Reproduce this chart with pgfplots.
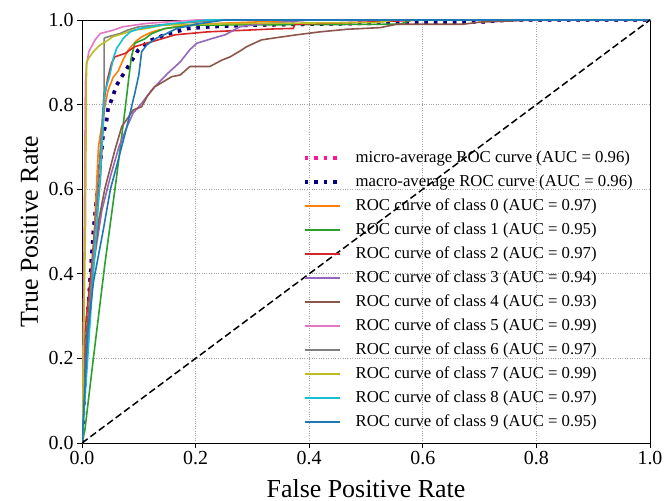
\documentclass[border=0pt]{standalone}
\usepackage{fontspec}
\setmainfont{Liberation Serif}
\usepackage{pgfplots}
\pgfplotsset{compat=1.18}

\definecolor{c0}{HTML}{FF7F0E}
\definecolor{c1}{HTML}{2CA02C}
\definecolor{c2}{HTML}{D62728}
\definecolor{c3}{HTML}{9467BD}
\definecolor{c4}{HTML}{8C564B}
\definecolor{c5}{HTML}{E377C2}
\definecolor{c6}{HTML}{7F7F7F}
\definecolor{c7}{HTML}{BCBD22}
\definecolor{c8}{HTML}{17BECF}
\definecolor{c9}{HTML}{1F77B4}
\definecolor{microc}{HTML}{FF1493}
\definecolor{macroc}{HTML}{000080}

\begin{document}
\begin{tikzpicture}
\begin{axis}[
name=ax,
scale only axis,
width=568bp,height=423bp,
xmin=0,xmax=1,ymin=0,ymax=1,
xtick={0,0.2,...,1.0},ytick={0,0.2,...,1.0},
tick pos=left,
tick align=outside,
major tick length=5bp,
tick style={black,line width=0.8bp},
axis line style={line width=0.8bp},
/pgf/number format/assume math mode=true,
xticklabel style={/pgf/number format/.cd,fixed,fixed zerofill,precision=1},
yticklabel style={/pgf/number format/.cd,fixed,fixed zerofill,precision=1},
ticklabel style={font=\fontsize{20}{24}\selectfont},
xlabel={False Positive Rate},
ylabel={True Positive Rate},
every axis x label/.style={at={([yshift=-54bp]rel axis cs:0.5,0)},anchor=base,inner sep=0pt,font=\fontsize{26}{30}\selectfont},
every axis y label/.style={at={([xshift=-44bp]rel axis cs:0,0.5)},anchor=base,rotate=90,inner sep=0pt,font=\fontsize{26}{30}\selectfont},
grid=major,
major grid style={dotted,line width=0.9bp,color=black!35},
legend cell align=left,
legend image code/.code={\draw[#1] (0bp,0bp) -- (35bp,0bp);},
legend style={draw=none,fill=none,at={(rel axis cs:0.389,0.693)},anchor=north west,
  font=\fontsize{16.8}{20}\selectfont,inner sep=0pt,
  nodes={inner sep=0pt,text height=12bp,text depth=4bp},
  row sep=8bp,column sep=14bp},
every axis plot/.append style={line width=1.6bp,line join=round},
]
% micro-average (hidden under the macro-average in the reference)
\addplot[microc,line width=3.5bp,dash pattern=on 3.5bp off 6bp] coordinates {
(0,0)(0.01,0.3)(0.02,0.5)(0.032,0.662)(0.035,0.697)(0.037,0.728)(0.043,0.76)(0.046,0.791)(0.052,0.811)(0.061,0.846)(0.07,0.866)(0.085,0.898)(0.099,0.929)(0.117,0.95)(0.146,0.965)(0.164,0.972)(0.187,0.98)(0.225,0.984)(0.3,0.988)(0.5,0.992)(0.7,0.995)(0.75,1)(1,1)
};
% macro-average
\addplot[macroc,line width=3.5bp,dash pattern=on 3.5bp off 6bp] coordinates {
(0,0)(0.01,0.3)(0.02,0.5)(0.032,0.662)(0.035,0.697)(0.037,0.728)(0.043,0.76)(0.046,0.791)(0.052,0.811)(0.061,0.846)(0.07,0.866)(0.085,0.898)(0.099,0.929)(0.117,0.95)(0.146,0.965)(0.164,0.972)(0.187,0.98)(0.225,0.984)(0.3,0.988)(0.5,0.992)(0.7,0.995)(0.75,1)(1,1)
};
% class 0
\addplot[c0] coordinates {
(0,0)(0.01,0.25)(0.02,0.45)(0.026,0.62)(0.029,0.7)(0.038,0.78)(0.046,0.834)(0.055,0.865)(0.064,0.88)(0.072,0.905)(0.082,0.93)(0.095,0.95)(0.105,0.96)(0.12,0.97)(0.134,0.976)(0.164,0.984)(0.2,0.99)(0.3,0.995)(0.4,1)(1,1)
};
% class 1
\addplot[c1] coordinates {
(0,0)(0.005,0.03)(0.02,0.2)(0.04,0.42)(0.06,0.62)(0.076,0.79)(0.083,0.87)(0.087,0.913)(0.093,0.945)(0.11,0.955)(0.123,0.968)(0.146,0.98)(0.2,0.988)(0.56,0.99)(0.58,1)(1,1)
};
% class 2
\addplot[c2] coordinates {
(0,0)(0.005,0.26)(0.017,0.42)(0.025,0.55)(0.032,0.62)(0.04,0.82)(0.045,0.86)(0.052,0.898)(0.058,0.913)(0.076,0.921)(0.093,0.937)(0.134,0.953)(0.164,0.965)(0.222,0.972)(0.34,0.979)(0.372,0.98)(0.375,0.99)(0.5,0.995)(0.6,1)(1,1)
};
% class 3
\addplot[c3] coordinates {
(0,0)(0.004,0.14)(0.008,0.26)(0.02,0.42)(0.035,0.55)(0.05,0.63)(0.065,0.7)(0.08,0.75)(0.09,0.78)(0.105,0.803)(0.123,0.835)(0.151,0.874)(0.173,0.901)(0.19,0.93)(0.202,0.945)(0.231,0.957)(0.252,0.965)(0.278,0.984)(0.31,0.99)(0.4,1)(1,1)
};
% class 4
\addplot[c4] coordinates {
(0,0)(0.003,0.1)(0.008,0.26)(0.02,0.42)(0.03,0.53)(0.04,0.6)(0.058,0.693)(0.07,0.748)(0.082,0.771)(0.09,0.787)(0.105,0.795)(0.115,0.82)(0.128,0.842)(0.158,0.866)(0.173,0.87)(0.19,0.89)(0.225,0.89)(0.246,0.905)(0.261,0.913)(0.281,0.929)(0.29,0.937)(0.316,0.953)(0.331,0.956)(0.378,0.965)(0.419,0.972)(0.466,0.978)(0.525,0.982)(0.554,0.99)(0.671,0.99)(0.7,0.995)(0.8,1)(1,1)
};
% class 5
\addplot[c5] coordinates {
(0,0)(0.004,0.5)(0.006,0.85)(0.008,0.894)(0.012,0.925)(0.023,0.953)(0.032,0.968)(0.055,0.976)(0.072,0.984)(0.114,0.992)(0.2,1)(1,1)
};
% class 6
\addplot[c6] coordinates {
(0,0)(0.01,0.25)(0.025,0.55)(0.035,0.75)(0.039,0.834)(0.039,0.957)(0.045,0.96)(0.067,0.968)(0.08,0.976)(0.1,0.984)(0.15,0.99)(0.25,1)(1,1)
};
% class 7
\addplot[c7] coordinates {
(0,0)(0.006,0.5)(0.008,0.9)(0.012,0.91)(0.02,0.925)(0.032,0.941)(0.043,0.95)(0.055,0.961)(0.073,0.968)(0.09,0.976)(0.114,0.98)(0.143,0.988)(0.3,0.992)(0.52,0.994)(0.55,1)(1,1)
};
% class 8
\addplot[c8] coordinates {
(0,0)(0.01,0.2)(0.02,0.4)(0.028,0.55)(0.032,0.62)(0.04,0.827)(0.049,0.87)(0.055,0.909)(0.061,0.933)(0.073,0.957)(0.085,0.972)(0.102,0.98)(0.15,0.99)(0.22,1)(1,1)
};
% class 9
\addplot[c9] coordinates {
(0,0)(0.004,0.1)(0.01,0.26)(0.02,0.38)(0.037,0.5)(0.05,0.6)(0.062,0.66)(0.079,0.748)(0.093,0.827)(0.1,0.87)(0.105,0.925)(0.114,0.941)(0.131,0.957)(0.149,0.968)(0.167,0.98)(0.2,0.99)(0.25,1)(1,1)
};
% chance line
\addplot[black,line width=1.5bp,dash pattern=on 7bp off 3.5bp,forget plot] coordinates {(0,0)(1,1)};
\legend{micro-average ROC curve (AUC = 0.96),macro-average ROC curve (AUC = 0.96),
ROC curve of class 0 (AUC = 0.97),ROC curve of class 1 (AUC = 0.95),
ROC curve of class 2 (AUC = 0.97),ROC curve of class 3 (AUC = 0.94),
ROC curve of class 4 (AUC = 0.93),ROC curve of class 5 (AUC = 0.99),
ROC curve of class 6 (AUC = 0.97),ROC curve of class 7 (AUC = 0.99),
ROC curve of class 8 (AUC = 0.97),ROC curve of class 9 (AUC = 0.95)}
\end{axis}
\pgfresetboundingbox
\path[use as bounding box] ([xshift=-82bp,yshift=-58bp]ax.south west) rectangle ([xshift=14bp,yshift=20bp]ax.north east);
\end{tikzpicture}
\end{document}
